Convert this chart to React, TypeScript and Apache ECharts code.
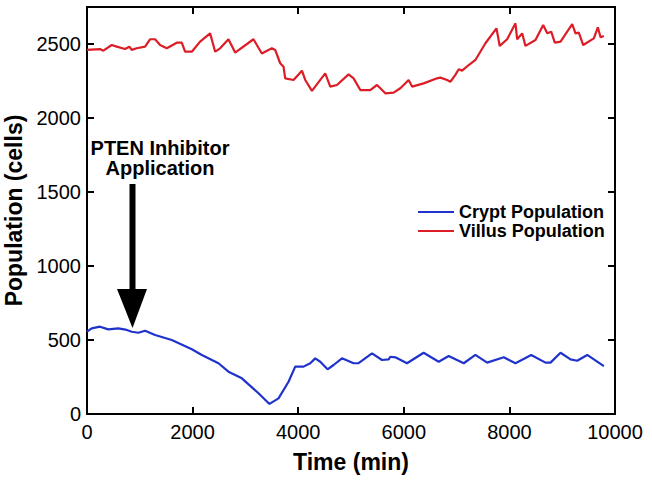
import React, { useEffect, useRef } from "react";
import * as echarts from "echarts";

const villusTime = [0,246,310,468,563,720,803,846,941,1100,1194,1289,1384,1511,1700,1795,1858,1985,2142,2332,2427,2521,2679,2806,3153,3217,3312,3501,3564,3659,3722,3754,3912,4071,4133,4260,4512,4607,4734,4954,5049,5176,5365,5492,5555,5650,5808,5934,6092,6156,6376,6630,6693,6820,6882,6977,7040,7104,7230,7356,7546,7755,7817,7957,8115,8147,8242,8304,8494,8640,8716,8792,8860,8968,9190,9252,9315,9398,9599,9675,9726,9789];
const villusPop = [2460,2466,2455,2493,2482,2466,2482,2460,2471,2482,2532,2532,2493,2471,2509,2509,2448,2448,2516,2572,2448,2471,2532,2442,2532,2493,2436,2471,2460,2370,2347,2268,2257,2320,2257,2183,2302,2212,2223,2295,2268,2189,2189,2223,2201,2167,2171,2201,2257,2212,2234,2268,2273,2257,2245,2291,2329,2320,2358,2392,2505,2606,2487,2532,2640,2532,2572,2487,2527,2628,2572,2583,2509,2516,2635,2572,2577,2493,2538,2613,2545,2554];

const cryptTime = [0,89,246,404,593,753,847,973,1100,1289,1606,1985,2175,2490,2679,2933,3248,3456,3627,3817,3944,4101,4228,4323,4418,4556,4670,4829,5049,5144,5398,5587,5713,5745,5840,6061,6376,6661,6850,7135,7356,7578,7893,8115,8413,8684,8778,8968,9158,9284,9474,9789];
const cryptPop = [556,579,590,572,579,568,556,549,563,534,500,437,399,343,286,241,140,68,106,218,320,320,343,376,353,302,331,376,343,343,410,365,369,387,383,343,414,353,392,343,399,347,383,343,399,347,347,414,369,360,399,324];

const seriesNames = ["Crypt Population", "Villus Population"];
const xTitle = "Time (min)";
const yTitle = "Population (cells)";
const annotationLines = ["PTEN Inhibitor", "Application"];

const FONT = "Liberation Sans, Arial, Helvetica, sans-serif";

export default function App() {
  const ref = useRef<HTMLDivElement>(null);
  useEffect(() => {
    document.body.style.margin = "0";
    if (!ref.current) return;
    const chart = echarts.init(ref.current, null, { renderer: "svg" });
    const zip = (a: number[], b: number[]) => a.map((v, i) => [v, b[i]]);
    const mkLine = () => ({ show: true, onZero: false, lineStyle: { color: "#000", width: 2 } });
    const mkTick = () => ({ show: true, inside: true, length: 7, lineStyle: { color: "#000", width: 2 } });
    chart.setOption({
      animation: false,
      grid: {
        left: 87,
        right: 37,
        top: 7,
        bottom: 66,
        outerBoundsMode: "none",
        show: true,
        borderColor: "#000",
        borderWidth: 2,
      },
      legend: {
        orient: "vertical",
        left: 413,
        top: 198,
        itemWidth: 36,
        itemHeight: 14,
        itemGap: 1,
        icon: "path://M0,6 L36,6 L36,8 L0,8 Z",
        textStyle: { fontFamily: FONT, fontWeight: "bold", fontSize: 18, color: "#000" },
        data: seriesNames,
      },
      xAxis: [
        {
          type: "value",
          min: 0,
          max: 10000,
          interval: 2000,
          splitLine: { show: false },
          axisLine: mkLine(),
          axisTick: mkTick(),
          name: xTitle,
          nameLocation: "middle",
          nameGap: 36,
          nameTextStyle: { fontFamily: FONT, fontWeight: "bold", fontSize: 23, color: "#000" },
          axisLabel: { show: true, margin: 8, fontFamily: FONT, fontSize: 20, color: "#000", formatter: (v: number) => String(v) },
        },
        {
          type: "value",
          position: "top",
          min: 0,
          max: 10000,
          interval: 2000,
          splitLine: { show: false },
          axisLine: mkLine(),
          axisTick: mkTick(),
          axisLabel: { show: false },
        },
      ],
      yAxis: [
        {
          type: "value",
          min: 0,
          max: 2750,
          interval: 500,
          splitLine: { show: false },
          axisLine: mkLine(),
          axisTick: mkTick(),
          name: yTitle,
          nameLocation: "middle",
          nameGap: 53,
          nameTextStyle: { fontFamily: FONT, fontWeight: "bold", fontSize: 23, color: "#000" },
          axisLabel: {
            show: true,
            margin: 6,
            fontFamily: FONT,
            fontSize: 20,
            color: "#000",
            formatter: (v: number) => (v % 500 === 0 ? String(v) : ""),
          },
        },
        {
          type: "value",
          position: "right",
          min: 0,
          max: 2750,
          interval: 500,
          splitLine: { show: false },
          axisLine: mkLine(),
          axisTick: mkTick(),
          axisLabel: { show: false },
        },
      ],
      series: [
        {
          name: seriesNames[0],
          type: "line",
          xAxisIndex: 0,
          yAxisIndex: 0,
          data: zip(cryptTime, cryptPop),
          showSymbol: false,
          lineStyle: { color: "#1f33cc", width: 2.2 },
          itemStyle: { color: "#1f33cc" },
        },
        {
          name: seriesNames[1],
          type: "line",
          xAxisIndex: 0,
          yAxisIndex: 0,
          data: zip(villusTime, villusPop),
          showSymbol: false,
          lineStyle: { color: "#dc1d26", width: 2.2 },
          itemStyle: { color: "#dc1d26" },
        },
      ],
      graphic: [
        { type: "text", x: 160, y: 148, style: { text: annotationLines[0], fontFamily: FONT, fontWeight: "bold", fontSize: 20, fill: "#000", align: "center", verticalAlign: "middle" } },
        { type: "text", x: 160, y: 168, style: { text: annotationLines[1], fontFamily: FONT, fontWeight: "bold", fontSize: 20, fill: "#000", align: "center", verticalAlign: "middle" } },
        { type: "rect", shape: { x: 129.5, y: 184, width: 6, height: 108 }, style: { fill: "#000" } },
        { type: "polygon", shape: { points: [[117, 289], [147, 289], [132.5, 328]] }, style: { fill: "#000" } },
      ],
    });
    return () => chart.dispose();
  }, []);
  return <div ref={ref} style={{ width: 652, height: 480 }} />;
}
